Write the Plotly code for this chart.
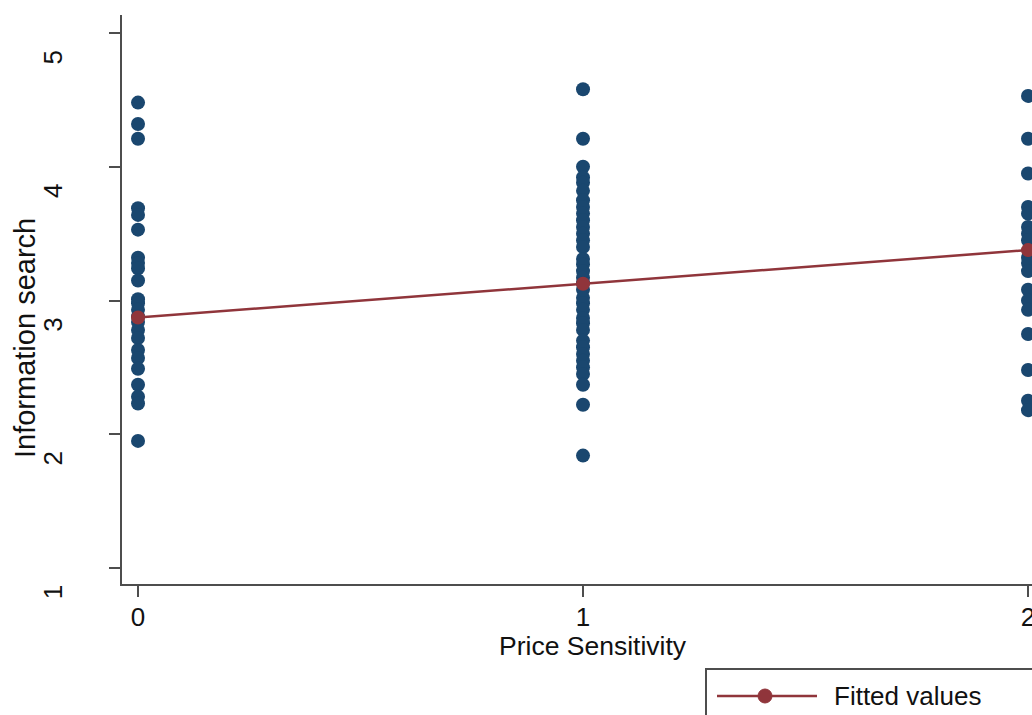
import plotly.graph_objects as go

# ---- data ----
price_sensitivity_levels = [0, 1, 2]
info_search_ps0 = [4.48, 4.32, 4.21, 3.69, 3.64, 3.53, 3.32, 3.28, 3.24, 3.15, 3.01, 2.98,
                   2.93, 2.88, 2.84, 2.78, 2.72, 2.63, 2.57, 2.49, 2.37, 2.28, 2.23, 1.95]
info_search_ps1 = [4.58, 4.21, 4.00, 3.92, 3.88, 3.82, 3.75, 3.70, 3.65, 3.60, 3.55, 3.50,
                   3.45, 3.40, 3.31, 3.27, 3.22, 3.17, 3.13, 3.08, 3.02, 2.98, 2.93, 2.87,
                   2.83, 2.78, 2.70, 2.65, 2.60, 2.55, 2.50, 2.45, 2.37, 2.22, 1.84]
info_search_ps2 = [4.53, 4.21, 3.95, 3.70, 3.65, 3.55, 3.50, 3.45, 3.32, 3.28, 3.22, 3.08,
                   3.00, 2.93, 2.75, 2.48, 2.25, 2.18]
fitted_values = [2.873, 3.125, 3.377]
y_tick_values = [1, 2, 3, 4, 5]
x_tick_values = [0, 1, 2]

xs, ys = [], []
for lvl, vals in zip(price_sensitivity_levels, [info_search_ps0, info_search_ps1, info_search_ps2]):
    xs += [lvl] * len(vals)
    ys += vals

NAVY = "#1a476f"
MAROON = "#90353b"
AXIS = "#4d4d4d"
TXT = "#111111"
FONT = "Liberation Sans, Arial, sans-serif"

fig = go.Figure()
fig.add_trace(go.Scatter(x=xs, y=ys, mode="markers", name="Information search",
                         marker=dict(color=NAVY, size=14, line=dict(width=0)),
                         cliponaxis=False, showlegend=False))
fig.add_trace(go.Scatter(x=price_sensitivity_levels, y=fitted_values, mode="lines+markers",
                         name="Fitted values",
                         line=dict(color=MAROON, width=2.5),
                         marker=dict(color=MAROON, size=14),
                         cliponaxis=False, showlegend=False))

W, H = 1032, 715
L, R, T, B = 122, 0, 15, 131

fig.update_layout(
    width=W, height=H,
    margin=dict(l=L, r=R, t=T, b=B, pad=0, autoexpand=False),
    paper_bgcolor="white", plot_bgcolor="white",
    font=dict(family=FONT, size=26, color=TXT),
    showlegend=False,
    xaxis=dict(range=[-0.036, 2.009], tickvals=x_tick_values, ticktext=[str(v) for v in x_tick_values],
               automargin=False, ticklabeloverflow="allow",
               showgrid=False, zeroline=False, showline=True, linecolor=AXIS, linewidth=2,
               ticks="outside", ticklen=11, tickwidth=2, tickcolor=AXIS,
               ticklabelstandoff=-2,
               tickfont=dict(size=26, family=FONT, color=TXT)),
    yaxis=dict(range=[0.88, 5.135], tickvals=y_tick_values, ticktext=[str(v) for v in y_tick_values],
               automargin=False, ticklabeloverflow="allow",
               showgrid=False, zeroline=False, showline=True, linecolor=AXIS, linewidth=2,
               ticks="outside", ticklen=11, tickwidth=2, tickcolor=AXIS,
               tickangle=-90, ticklabelshift=28, ticklabelstandoff=37,
               tickfont=dict(size=26, family=FONT, color=TXT)),
)

def px_x(p):
    return (p - L) / (W - L - R)

def px_y(p):
    return (H - B - p) / (H - T - B)

# axis titles (positioned like the original)
fig.add_annotation(text="Price Sensitivity", xref="paper", yref="paper",
                   x=px_x(593), y=px_y(646),
                   xanchor="center", yanchor="middle", showarrow=False,
                   font=dict(size=26.5, family=FONT, color=TXT))
fig.add_annotation(text="Information search", textangle=-90, xref="paper", yref="paper",
                   x=px_x(25), y=px_y(338),
                   xanchor="center", yanchor="middle", showarrow=False,
                   font=dict(size=29, family=FONT, color=TXT))

# legend box (cut off by the frame, like the original)
fig.add_shape(type="rect", xref="paper", yref="paper",
              x0=px_x(706), x1=px_x(1060), y0=px_y(669), y1=px_y(740),
              line=dict(color=AXIS, width=2), fillcolor="rgba(0,0,0,0)", layer="above")
fig.add_shape(type="line", xref="paper", yref="paper",
              x0=px_x(717), x1=px_x(817), y0=px_y(696), y1=px_y(696),
              line=dict(color=MAROON, width=2.5))
fig.add_shape(type="circle", xref="paper", yref="paper",
              x0=px_x(758), x1=px_x(772), y0=px_y(703), y1=px_y(689),
              line=dict(color=MAROON, width=1), fillcolor=MAROON)
fig.add_annotation(text="Fitted values", xref="paper", yref="paper",
                   x=px_x(832), y=px_y(696), xanchor="left", yanchor="middle",
                   showarrow=False, font=dict(size=26, family=FONT, color=TXT))

fig.write_html("out.html", config={"displayModeBar": False},
               post_script="document.body.style.margin='0px';document.body.style.overflow='hidden';")
